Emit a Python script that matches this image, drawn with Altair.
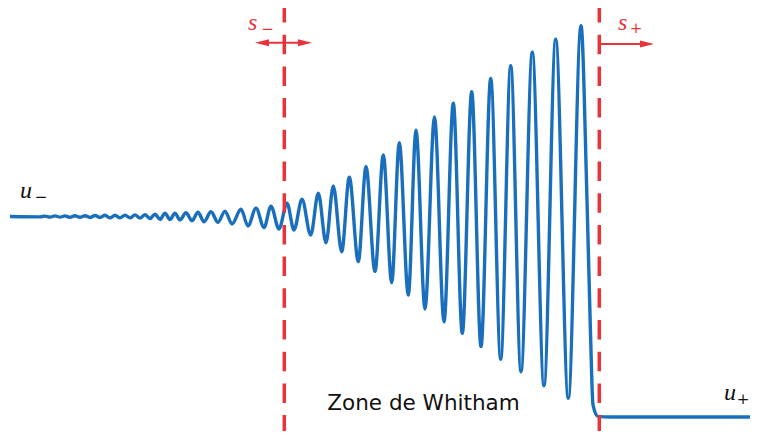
import altair as alt
import pandas as pd

# ---- data (x in tenths of the figure width units, u: u_+ = 0, u_- = 1) ----
X_CURVE = [1.0, 4.0, 4.5, 5.0, 5.5, 6.0, 6.5, 7.0, 7.5, 8.0, 8.5, 9.0, 9.5, 10.0, 10.5, 11.0, 11.5,
           12.0, 12.5, 13.0, 13.5, 14.0, 14.5, 15.0,
           15.5, 16.0, 16.5, 17.0, 17.5, 18.0, 18.6, 19.2, 19.8, 20.4, 21.1, 21.8, 22.5, 23.2, 24.1,
           24.8, 25.6, 26.4, 27.1, 27.9, 28.7, 29.4, 30.2, 31.07, 31.83, 32.6, 33.33, 34.17, 34.93,
           35.83, 36.6, 37.5, 38.33, 39.17, 39.93, 40.83, 41.6, 42.5, 43.45, 44.4, 45.33, 46.23, 47.17,
           48.1, 49.07, 50.07, 51.07, 52.1, 53.23, 54.4, 55.57, 56.83, 58.1,
           58.7, 59.05, 59.3, 59.8, 61.0, 75.8]
U_CURVE = [1.000, 0.998, 1.002, 0.997, 1.003, 0.997, 1.003, 0.996, 1.004, 0.996, 1.004, 0.995, 1.005,
           0.995, 1.006, 0.994, 1.006, 0.993, 1.007, 0.993, 1.008, 0.992, 1.009, 0.990,
           1.011, 0.986, 1.016, 0.986, 1.016, 0.983, 1.019, 0.979, 1.021, 0.974, 1.024, 0.971, 1.027,
           0.963, 1.036, 0.953, 1.042, 0.945, 1.052, 0.938, 1.067, 0.933, 1.086, 0.908, 1.116, 0.869,
           1.152, 0.824, 1.196, 0.775, 1.248, 0.725, 1.307, 0.670, 1.368, 0.608, 1.431, 0.539, 1.496,
           0.475, 1.565, 0.417, 1.622, 0.351, 1.689, 0.288, 1.752, 0.226, 1.819, 0.156, 1.885, 0.093,
           1.952,
           1.082, 0.419, 0.060, 0.003, 0.000, 0.000]
assert len(X_CURVE) == len(U_CURVE)

X_FRONTS = [28.43, 59.93]           # s_- and s_+ front positions
U_TOP, U_BOTTOM = 2.04, -0.0698     # vertical extent of the figure

# arrows (line from x to x2 at height u), heads
ARROW_X = [26.2, 59.93]
ARROW_X2 = [30.5, 64.7]
ARROW_U = [1.867, 1.860]
HEAD_X_LEFT = [26.2]
HEAD_U_LEFT = [1.867]
HEAD_X_RIGHT = [30.5, 64.7]
HEAD_U_RIGHT = [1.867, 1.860]

# labels
LETTER_TEXT = ["u", "u", "s", "s"]
LETTER_X = [2.0, 72.4, 24.8, 61.8]
LETTER_U = [1.091, 0.085, 1.928, 1.930]
LETTER_COLOR = ["#111111", "#111111", "#e8333b", "#e8333b"]
SUB_TEXT = ["\u2212", "+", "\u2212", "+"]
SUB_X = [4.1, 74.3, 26.75, 63.6]
SUB_U = [1.096, 0.092, 1.937, 1.940]
SUB_COLOR = ["#111111", "#111111", "#e8333b", "#e8333b"]
ZONE_TEXT = ["Zone de Whitham"]
ZONE_X = [42.35]
ZONE_U = [0.035]

BLUE = "#1a6fbd"
RED = "#e8333b"

xs = alt.Scale(domain=[0.8, 75.0], nice=False, zero=False)
ys = alt.Scale(domain=[U_BOTTOM, U_TOP], nice=False, zero=False)

curve_df = pd.DataFrame({"x": X_CURVE, "u": U_CURVE})
curve = alt.Chart(curve_df).mark_line(
    color=BLUE, strokeWidth=3.4, interpolate="monotone", clip=True
).encode(
    x=alt.X("x:Q", scale=xs, axis=None),
    y=alt.Y("u:Q", scale=ys, axis=None),
)

fronts_df = pd.DataFrame({"x": X_FRONTS, "top": [U_TOP] * 2, "bottom": [U_BOTTOM] * 2})
fronts = alt.Chart(fronts_df).mark_rule(
    color=RED, strokeWidth=3.5, strokeDash=[19.5, 12.2], strokeDashOffset=5
).encode(
    x=alt.X("x:Q", scale=xs, axis=None),
    y=alt.Y("top:Q", scale=ys, axis=None),
    y2="bottom:Q",
)

arrows_df = pd.DataFrame({"x": ARROW_X, "x2": ARROW_X2, "u": ARROW_U})
arrows = alt.Chart(arrows_df).mark_rule(color=RED, strokeWidth=2).encode(
    x=alt.X("x:Q", scale=xs, axis=None),
    x2="x2:Q",
    y=alt.Y("u:Q", scale=ys, axis=None),
)

heads_r = alt.Chart(pd.DataFrame({"x": HEAD_X_RIGHT, "u": HEAD_U_RIGHT})).mark_point(
    shape="M1,0L-1,-0.5L-1,0.5Z", filled=True, size=196, color=RED, opacity=1, strokeWidth=0
).encode(
    x=alt.X("x:Q", scale=xs, axis=None),
    y=alt.Y("u:Q", scale=ys, axis=None),
)
heads_l = alt.Chart(pd.DataFrame({"x": HEAD_X_LEFT, "u": HEAD_U_LEFT})).mark_point(
    shape="M-1,0L1,-0.5L1,0.5Z", filled=True, size=196, color=RED, opacity=1, strokeWidth=0
).encode(
    x=alt.X("x:Q", scale=xs, axis=None),
    y=alt.Y("u:Q", scale=ys, axis=None),
)

letters_df = pd.DataFrame({"t": LETTER_TEXT, "x": LETTER_X, "u": LETTER_U, "c": LETTER_COLOR})
letters = alt.Chart(letters_df).mark_text(
    font="Liberation Serif", fontStyle="italic", fontSize=24, align="left", baseline="alphabetic"
).encode(
    x=alt.X("x:Q", scale=xs, axis=None),
    y=alt.Y("u:Q", scale=ys, axis=None),
    text="t:N",
    color=alt.Color("c:N", scale=None),
)

subs_df = pd.DataFrame({"t": SUB_TEXT, "x": SUB_X, "u": SUB_U, "c": SUB_COLOR})
subs = alt.Chart(subs_df).mark_text(
    font="DejaVu Serif", fontSize=15, align="center", baseline="middle"
).encode(
    x=alt.X("x:Q", scale=xs, axis=None),
    y=alt.Y("u:Q", scale=ys, axis=None),
    text="t:N",
    color=alt.Color("c:N", scale=None),
)

zone_df = pd.DataFrame({"t": ZONE_TEXT, "x": ZONE_X, "u": ZONE_U})
zone = alt.Chart(zone_df).mark_text(
    font="DejaVu Sans", fontSize=21.5, align="center", baseline="alphabetic", color="#111111"
).encode(
    x=alt.X("x:Q", scale=xs, axis=None),
    y=alt.Y("u:Q", scale=ys, axis=None),
    text="t:N",
)

chart = alt.layer(curve, fronts, arrows, heads_r, heads_l, letters, subs, zone).properties(
    width=742, height=423, autosize=alt.AutoSizeParams(type="none"), padding=0
).configure_view(stroke=None)

chart.save("out.html", embed_options={"renderer": "svg", "actions": False})
